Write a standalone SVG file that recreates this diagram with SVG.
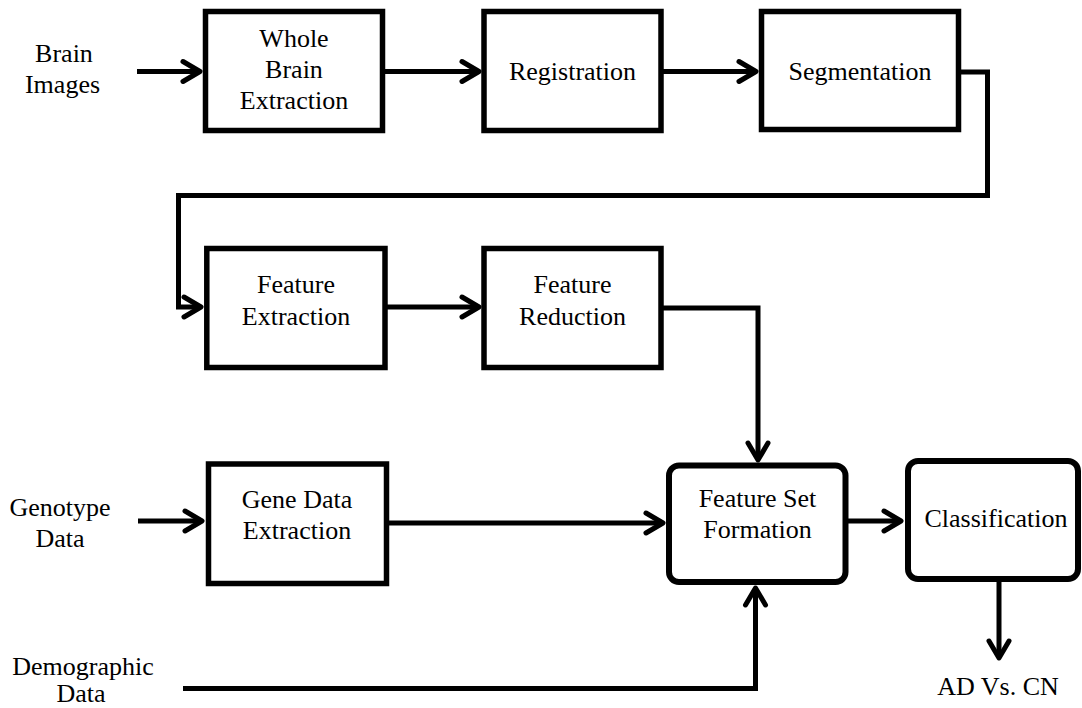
<svg xmlns="http://www.w3.org/2000/svg" width="1082" height="708" viewBox="0 0 1082 708">
<style>
.box{fill:#fff;stroke:#000;stroke-width:5.5}
.rbox{fill:#fff;stroke:#000;stroke-width:6}
.t{font-family:"Liberation Serif","Times New Roman","DejaVu Serif",serif;font-size:26px;fill:#000;text-anchor:middle}
.c{fill:none;stroke:#000;stroke-width:5;stroke-linejoin:miter}
</style>
<defs>
<marker id="ah" markerUnits="userSpaceOnUse" markerWidth="40" markerHeight="40" refX="0" refY="0" orient="auto" overflow="visible">
<path d="M-17,-10 L0,0 L-17,10" fill="none" stroke="#000" stroke-width="5" stroke-linecap="round" stroke-linejoin="round"/>
</marker>
</defs>
<rect width="1082" height="708" fill="#fff"/>
<g id="connectors">
<path class="c" d="M137,71.5 H200" marker-end="url(#ah)"/>
<path class="c" d="M383,71.5 H479" marker-end="url(#ah)"/>
<path class="c" d="M661,71.5 H756" marker-end="url(#ah)"/>
<path class="c" d="M959,72 H987.5 V195.5 H178.5 V307 H201" marker-end="url(#ah)"/>
<path class="c" d="M385,307 H479" marker-end="url(#ah)"/>
<path class="c" d="M661,308 H758 V460" marker-end="url(#ah)"/>
<path class="c" d="M138,521 H202" marker-end="url(#ah)"/>
<path class="c" d="M386.5,523 H663" marker-end="url(#ah)"/>
<path class="c" d="M183,688.5 H755.5 V588" marker-end="url(#ah)"/>
<path class="c" d="M845.5,521 H901" marker-end="url(#ah)"/>
<path class="c" d="M999,579 V658" marker-end="url(#ah)"/>
</g>
<g id="brain-images"><text class="t" x="64" y="62">Brain</text><text class="t" x="62.5" y="93">Images</text></g>
<g id="whole-brain-extraction"><rect class="box" x="205.5" y="11.5" width="177" height="119"/><text class="t" x="294" y="47">Whole</text><text class="t" x="294" y="78">Brain</text><text class="t" x="294" y="109">Extraction</text></g>
<g id="registration"><rect class="box" x="484" y="11.5" width="177" height="119"/><text class="t" x="572.5" y="80">Registration</text></g>
<g id="segmentation"><rect class="box" x="761.5" y="11.5" width="197" height="118"/><text class="t" x="860" y="80">Segmentation</text></g>
<g id="feature-extraction"><rect class="box" x="206.8" y="248.5" width="178.2" height="119"/><text class="t" x="296" y="293">Feature</text><text class="t" x="296" y="325">Extraction</text></g>
<g id="feature-reduction"><rect class="box" x="484" y="248.5" width="177" height="119"/><text class="t" x="572.5" y="293">Feature</text><text class="t" x="572.5" y="325">Reduction</text></g>
<g id="genotype-data"><text class="t" x="60" y="516">Genotype</text><text class="t" x="60" y="547">Data</text></g>
<g id="gene-data-extraction"><rect class="box" x="208.5" y="464" width="178" height="119.5"/><text class="t" x="297" y="508">Gene Data</text><text class="t" x="297" y="539">Extraction</text></g>
<g id="demographic-data"><text class="t" x="83" y="675">Demographic</text><text class="t" x="81" y="702">Data</text></g>
<g id="feature-set-formation"><rect class="rbox" x="669" y="465.5" width="176.5" height="116.5" rx="10"/><text class="t" x="757.5" y="507">Feature Set</text><text class="t" x="757.5" y="538">Formation</text></g>
<g id="classification"><rect class="rbox" x="908" y="461" width="170" height="118" rx="10"/><text class="t" x="996" y="527">Classification</text></g>
<g id="ad-vs-cn"><text class="t" x="998" y="695">AD Vs. CN</text></g>
</svg>
